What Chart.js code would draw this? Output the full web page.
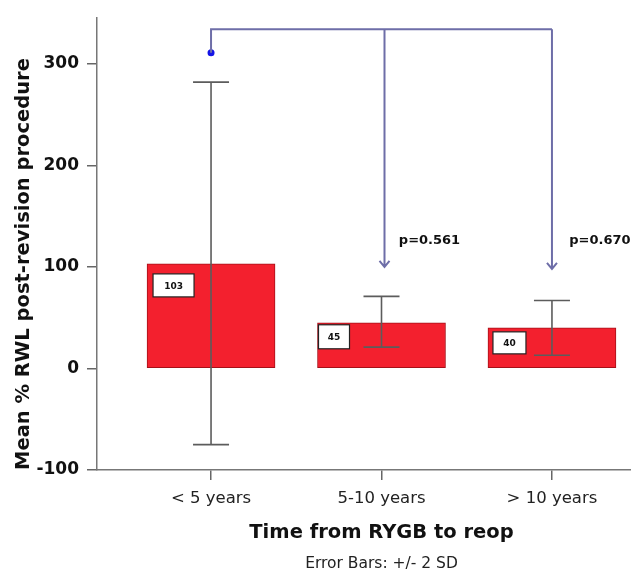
<!DOCTYPE html>
<html><head><meta charset="utf-8">
<script src="https://cdn.jsdelivr.net/npm/chart.js@4.4.0/dist/chart.umd.min.js"></script>
<style>
html,body{margin:0;padding:0;background:#fff;overflow:hidden;width:631px;height:575px}
#wrap{position:relative;width:680px;height:575px}
</style></head>
<body><div id="wrap"><canvas id="c" width="680" height="575"></canvas></div>
<script>
// ---- data ----
const categories = ['< 5 years', '5-10 years', '> 10 years'];
const meanValues = [103, 45, 40];
const errLower = [-75, 21, 13];
const errUpper = [282, 71, 67];
const outlierCategory = [0];
const outlierValues = [311];
const bracketLevel = 334;
const arrowTipValues = [null, 100, 98];
const pLabels = ['', 'p=0.561', 'p=0.670'];
const pLabelValue = 126;
const yTicks = [-100, 0, 100, 200, 300];

const FONT = "'DejaVu Sans', Verdana, sans-serif";

const errorBarsPlugin = {
  id: 'errorBars',
  afterDatasetsDraw(chart) {
    const ctx = chart.ctx, xs = chart.scales.x, ys = chart.scales.y;
    ctx.save();
    ctx.strokeStyle = '#5c5c5c';
    ctx.lineWidth = 1.6;
    const half = 18;
    errLower.forEach((lo, i) => {
      const x = xs.getPixelForValue(i);
      const yl = ys.getPixelForValue(lo), yu = ys.getPixelForValue(errUpper[i]);
      ctx.beginPath();
      ctx.moveTo(x, yl); ctx.lineTo(x, yu);
      ctx.moveTo(x - half, yu); ctx.lineTo(x + half, yu);
      ctx.moveTo(x - half, yl); ctx.lineTo(x + half, yl);
      ctx.stroke();
    });
    ctx.restore();
  }
};

const labelBoxPlugin = {
  id: 'labelBoxes',
  afterDatasetsDraw(chart, args, opts) {
    const ctx = chart.ctx;
    const meta = chart.getDatasetMeta(0);
    ctx.save();
    meta.data.forEach((bar, i) => {
      const b = opts.boxes[i];
      const left = bar.x - bar.width / 2 + b.dx;
      const top = bar.y + b.dy;
      ctx.fillStyle = '#fff';
      ctx.fillRect(left, top, b.w, b.h);
      ctx.strokeStyle = '#222';
      ctx.lineWidth = 1.2;
      ctx.strokeRect(left, top, b.w, b.h);
      ctx.fillStyle = '#111';
      ctx.font = 'bold 9px ' + FONT;
      ctx.textAlign = 'center';
      ctx.textBaseline = 'middle';
      ctx.fillText(String(meanValues[i]), left + b.w / 2, top + b.h / 2 + 1);
    });
    ctx.restore();
  }
};

const bracketPlugin = {
  id: 'bracket',
  afterDatasetsDraw(chart, args, opts) {
    const ctx = chart.ctx, xs = chart.scales.x, ys = chart.scales.y;
    const yTop = ys.getPixelForValue(bracketLevel);
    const x0 = xs.getPixelForValue(0), x2 = xs.getPixelForValue(2);
    ctx.save();
    ctx.strokeStyle = '#6e6ea8';
    ctx.lineWidth = 2;
    ctx.beginPath();
    ctx.moveTo(x0, ys.getPixelForValue(outlierValues[0]));
    ctx.lineTo(x0, yTop);
    ctx.lineTo(x2, yTop);
    ctx.stroke();
    arrowTipValues.forEach((v, i) => {
      if (v === null) return;
      const x = xs.getPixelForValue(i) + (i === 1 ? 3 : 0);
      const yt = ys.getPixelForValue(v);
      ctx.beginPath();
      ctx.moveTo(x, yTop); ctx.lineTo(x, yt);
      ctx.moveTo(x - 5, yt - 6); ctx.lineTo(x, yt); ctx.lineTo(x + 5, yt - 6);
      ctx.stroke();
    });
    ctx.fillStyle = '#111';
    ctx.font = 'bold 13px ' + FONT;
    ctx.textAlign = 'center';
    ctx.textBaseline = 'middle';
    pLabels.forEach((t, i) => {
      if (!t) return;
      ctx.fillText(t, xs.getPixelForValue(i) + opts.pOffset, ys.getPixelForValue(pLabelValue));
    });
    ctx.restore();
  }
};

new Chart(document.getElementById('c'), {
  type: 'bar',
  data: {
    datasets: [
      {
        type: 'bar',
        data: meanValues.map((v, i) => ({ x: i, y: v })),
        backgroundColor: '#f3202e',
        borderColor: '#a51018',
        borderWidth: 1,
        borderSkipped: false,
        barThickness: 128,
        order: 2
      },
      {
        type: 'scatter',
        data: outlierValues.map((v, i) => ({ x: outlierCategory[i], y: v })),
        backgroundColor: '#1414e6',
        borderWidth: 0,
        pointRadius: 3.5,
        order: 1
      }
    ]
  },
  options: {
    responsive: false,
    animation: false,
    layout: { padding: { top: 15, right: 14, bottom: 0, left: 0 } },
    plugins: {
      legend: { display: false },
      tooltip: { enabled: false },
      subtitle: {
        display: true, position: 'bottom', fullSize: false,
        text: 'Error Bars: +/- 2 SD',
        color: '#222', font: { family: FONT, size: 15.5, weight: 'normal' },
        padding: { top: 0, bottom: 2 }
      },
      labelBoxes: {
        boxes: [
          { dx: 6, dy: 10, w: 41, h: 23 },
          { dx: 1, dy: 2, w: 31, h: 24 },
          { dx: 5, dy: 4, w: 33, h: 22 }
        ]
      },
      bracket: { pOffset: 48 }
    },
    scales: {
      x: {
        type: 'linear',
        offset: false,
        min: -0.669, max: 2.669,
        afterBuildTicks(scale) { scale.ticks = categories.map((c, i) => ({ value: i })); },
        afterFit(scale) { scale.height = 84.4; },
        grid: { display: true, offset: false, drawOnChartArea: false, drawTicks: true, tickLength: 10, color: '#666', lineWidth: 1.5 },
        border: { display: true, color: '#777', width: 1.5 },
        ticks: {
          padding: 9, color: '#222',
          font: { family: FONT, size: 16.5 },
          callback: (v) => categories[Math.round(v)]
        },
        title: {
          display: true, text: 'Time from RYGB to reop', color: '#111',
          font: { family: FONT, size: 19.5, weight: 'bold' },
          padding: { top: 0, bottom: 10 }
        }
      },
      y: {
        min: -100, max: 345,
        afterBuildTicks(scale) { scale.ticks = yTicks.map(v => ({ value: v })); },
        afterFit(scale) { scale.width = 97; },
        grid: { display: true, drawOnChartArea: false, drawTicks: true, tickLength: 10, color: '#666', lineWidth: 1.5 },
        border: { display: true, color: '#777', width: 1.5 },
        ticks: {
          padding: 8, color: '#111',
          font: { family: FONT, size: 17, weight: 'bold' }
        },
        title: {
          display: true, align: 'start', text: 'Mean % RWL post-revision procedure', color: '#111',
          font: { family: FONT, size: 19.5, weight: 'bold' },
          padding: { top: 12, bottom: 0 }
        }
      }
    }
  },
  plugins: [errorBarsPlugin, labelBoxPlugin, bracketPlugin]
});
</script>
</body></html>
